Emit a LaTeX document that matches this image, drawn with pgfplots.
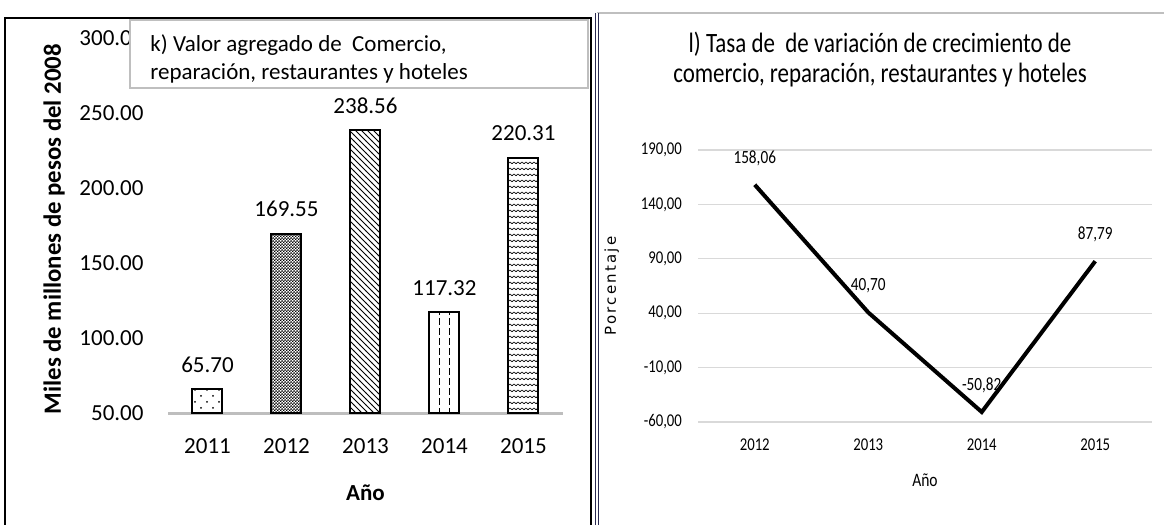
\documentclass[border=0pt]{standalone}
\usepackage{fontspec}
\setmainfont{Carlito}
\newfontfamily\narrow[FakeStretch=0.82]{Carlito}
\newfontfamily\spaced[LetterSpace=15]{DejaVu Sans}
\usepackage{pgfplots}
\pgfplotsset{compat=1.18}
\usetikzlibrary{patterns}

\pgfdeclarepatternformonly{sparsedots}{\pgfqpoint{-1pt}{-1pt}}{\pgfqpoint{7pt}{7pt}}{\pgfqpoint{6pt}{6pt}}{%
  \pgfpathcircle{\pgfqpoint{1.5pt}{1.5pt}}{0.5pt}%
  \pgfpathcircle{\pgfqpoint{4.5pt}{4.5pt}}{0.5pt}%
  \pgfusepath{fill}}
\pgfdeclarepatternformonly{checker}{\pgfpointorigin}{\pgfqpoint{1.6pt}{1.6pt}}{\pgfqpoint{1.6pt}{1.6pt}}{%
  \pgfpathrectangle{\pgfpointorigin}{\pgfqpoint{0.9pt}{0.9pt}}%
  \pgfpathrectangle{\pgfqpoint{0.8pt}{0.8pt}}{\pgfqpoint{0.9pt}{0.9pt}}%
  \pgfusepath{fill}}
\pgfdeclarepatternformonly{dashedv}{\pgfqpoint{-1pt}{-1pt}}{\pgfqpoint{6pt}{6pt}}{\pgfqpoint{5pt}{5pt}}{%
  \pgfsetlinewidth{0.55pt}%
  \pgfpathmoveto{\pgfqpoint{4.75pt}{0pt}}\pgfpathlineto{\pgfqpoint{4.75pt}{3.4pt}}%
  \pgfusepath{stroke}}
\pgfdeclarepatternformonly{wave}{\pgfqpoint{-0.5pt}{-0.5pt}}{\pgfqpoint{4.5pt}{3.5pt}}{\pgfqpoint{4pt}{3pt}}{%
  \pgfsetlinewidth{0.3pt}%
  \pgfpathmoveto{\pgfqpoint{0pt}{0.6pt}}\pgfpathlineto{\pgfqpoint{1pt}{1.5pt}}%
  \pgfpathlineto{\pgfqpoint{2pt}{0.6pt}}\pgfpathlineto{\pgfqpoint{3pt}{1.5pt}}%
  \pgfpathlineto{\pgfqpoint{4pt}{0.6pt}}%
  \pgfusepath{stroke}}

\definecolor{navyframe}{RGB}{40,40,80}
\definecolor{gridgray}{RGB}{217,217,217}
\definecolor{basegray}{RGB}{190,190,190}

\begin{document}
\begin{tikzpicture}
\useasboundingbox (0,0) rectangle (582pt,-262.5pt);
% frames
\draw[black, line width=0.8pt] (2.5pt,-280pt) -- (2.5pt,-9pt) -- (295.5pt,-9pt) -- (295.5pt,-280pt);
\draw[gray!50, line width=0.6pt] (298.5pt,-6.5pt) -- (590pt,-6.5pt);
\draw[navyframe, line width=0.6pt, double, double distance=0.6pt] (298.5pt,-6.5pt) -- (298.5pt,-280pt);

% ---------------- left: bars
\begin{axis}[
  at={(84pt,-206.5pt)}, anchor=south west,
  scale only axis, width=197.5pt, height=187.5pt,
  xmin=-0.5, xmax=4.5, ymin=50, ymax=300,
  ytick={50,100,...,300},
  xtick={0,1,2,3,4}, xticklabels={2011,2012,2013,2014,2015},
  axis x line*=bottom, axis y line*=left,
  x axis line style={draw=basegray, line width=1.5pt, -},
  y axis line style={draw=none},
  major tick length=0pt,
  /pgf/number format/assume math mode=true,
  tick label style={font=\fontsize{11.5}{13}\selectfont},
  yticklabel style={/pgf/number format/fixed, /pgf/number format/fixed zerofill, /pgf/number format/precision=2, /pgf/number format/1000 sep={}, xshift=-8.7pt},
  xticklabel style={yshift=-9.5pt},
  ylabel={Miles de millones de pesos del 2008},
  ylabel style={font=\fontsize{12.4}{14}\selectfont\bfseries, at={(axis description cs:-0.288,0.49)}, anchor=center},
  xlabel={Año},
  xlabel style={font=\fontsize{11.5}{13}\selectfont\bfseries, at={(axis description cs:0.5,-0.213)}, anchor=center},
  ybar, bar width=15pt,
  nodes near coords={\pgfmathprintnumber[fixed,fixed zerofill,precision=2]{\pgfplotspointmeta}},
  nodes near coords style={font=\fontsize{11.5}{13}\selectfont, yshift=4.5pt},
  point meta=y,
]
\addplot[bar shift=0pt, draw=black, line width=1pt, pattern=sparsedots] coordinates {(0,65.70)};
\addplot[bar shift=0pt, draw=black, line width=1pt, pattern=checker] coordinates {(1,169.55)};
\addplot[bar shift=0pt, draw=black, line width=1pt, pattern=north west lines] coordinates {(2,238.56)};
\addplot[bar shift=0pt, draw=black, line width=1pt, pattern=dashedv] coordinates {(3,117.32)};
\addplot[bar shift=0pt, draw=black, line width=1pt, pattern=wave] coordinates {(4,220.31)};
\end{axis}

% title box left
\draw[gray!50, fill=white, line width=0.6pt] (65pt,-10pt) rectangle (294pt,-44pt);
\node[anchor=north west, align=left, inner sep=0pt, font=\fontsize{11.5}{14}\selectfont] at (75pt,-17pt)
  {k) Valor agregado de\ \ Comercio,\\reparación, restaurantes y hoteles};

% ---------------- right: line
\begin{axis}[
  at={(349pt,-211pt)}, anchor=south west,
  scale only axis, width=227pt, height=136pt,
  xmin=-0.5, xmax=3.5, ymin=-60, ymax=190,
  ytick={-60,-10,40,90,140,190},
  xtick={0,1,2,3}, xticklabels={2012,2013,2014,2015},
  axis line style={draw=none},
  ymajorgrids, grid style={gridgray, line width=0.6pt},
  major tick length=0pt,
  /pgf/number format/assume math mode=true,
  tick label style={font=\narrow\fontsize{9}{11}\selectfont},
  yticklabel style={/pgf/number format/fixed, /pgf/number format/fixed zerofill, /pgf/number format/precision=2, /pgf/number format/use comma, /pgf/number format/1000 sep={}, xshift=-4.5pt},
  xticklabel style={yshift=-5pt},
  ylabel={Porcentaje},
  ylabel style={font=\spaced\fontsize{7.5}{9}\selectfont, at={(axis description cs:-0.19,0.5)}, anchor=center},
  xlabel={Año},
  xlabel style={font=\narrow\fontsize{9.5}{11}\selectfont, at={(axis description cs:0.5,-0.213)}, anchor=center},
  clip=false,
]
\addplot[black, line width=2pt, mark=none,
  nodes near coords={\pgfmathprintnumber[fixed,fixed zerofill,precision=2,use comma]{\pgfplotspointmeta}},
  nodes near coords style={font=\narrow\fontsize{9.3}{11}\selectfont, anchor=south, yshift=5.3pt},
  point meta=y]
  coordinates {(0,158.06) (1,40.70) (2,-50.82) (3,87.79)};
\end{axis}

\node[align=center, font=\narrow\fontsize{14}{15}\selectfont] at (440pt,-30pt)
  {l) Tasa de\ \ de variación de crecimiento de\\comercio, reparación, restaurantes y hoteles};
\end{tikzpicture}
\end{document}
